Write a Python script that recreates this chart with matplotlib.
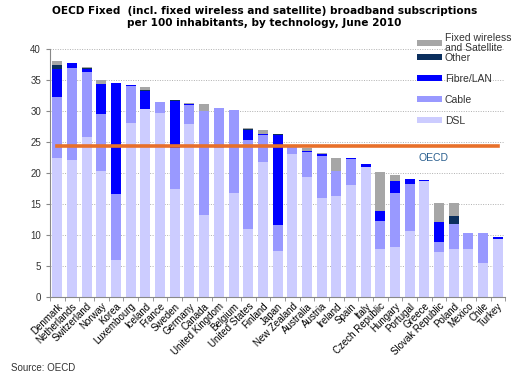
import matplotlib
matplotlib.use("Agg")
import matplotlib.pyplot as plt
import numpy as np
from matplotlib.patches import Patch

countries = ["Denmark", "Netherlands", "Switzerland", "Norway", "Korea", "Luxembourg",
             "Iceland", "France", "Sweden", "Germany", "Canada", "United Kingdom",
             "Belgium", "United States", "Finland", "Japan", "New Zealand", "Australia",
             "Austria", "Ireland", "Spain", "Italy", "Czech Republic", "Hungary",
             "Portugal", "Greece", "Slovak Republic", "Poland", "Mexico", "Chile", "Turkey"]

dsl = [22.4, 22.1, 25.8, 20.4, 6.0, 28.0, 30.4, 29.6, 17.5, 27.9, 13.2, 24.1,
       16.7, 11.0, 21.8, 7.5, 23.0, 19.4, 15.9, 16.3, 18.0, 20.9, 7.7, 8.1,
       10.6, 18.7, 7.2, 7.7, 7.8, 5.5, 9.3]
cable = [9.9, 14.8, 10.5, 9.1, 10.6, 6.0, 0.0, 1.8, 6.5, 3.1, 16.8, 6.4,
         13.4, 14.4, 4.3, 4.1, 1.2, 4.0, 6.9, 4.0, 4.2, 0.0, 4.6, 8.7,
         7.6, 0.0, 1.6, 4.1, 2.5, 4.9, 0.1]
fibre = [4.4, 0.9, 0.4, 4.8, 17.9, 0.2, 2.9, 0.0, 7.6, 0.2, 0.0, 0.0,
         0.0, 1.6, 0.2, 14.6, 0.0, 0.1, 0.3, 0.1, 0.2, 0.5, 1.5, 1.9,
         0.8, 0.2, 3.3, 0.0, 0.0, 0.0, 0.2]
other = [0.7, 0.0, 0.3, 0.1, 0.0, 0.0, 0.1, 0.0, 0.1, 0.0, 0.0, 0.0,
         0.0, 0.1, 0.0, 0.1, 0.0, 0.1, 0.0, 0.0, 0.0, 0.0, 0.0, 0.0,
         0.0, 0.0, 0.0, 1.3, 0.1, 0.0, 0.0]
wireless = [0.7, 0.0, 0.1, 0.6, 0.0, 0.0, 0.5, 0.0, 0.0, 0.1, 1.1, 0.0,
            0.0, 0.1, 0.6, 0.0, 0.0, 0.5, 0.2, 2.0, 0.0, 0.0, 6.4, 0.9,
            0.1, 0.0, 3.0, 2.0, 0.0, 0.0, 0.0]
oecd_avg = 24.4

series = [("DSL", dsl, "#CCCCFF"),
          ("Cable", cable, "#9999FF"),
          ("Fibre/LAN", fibre, "#0000FF"),
          ("Other", other, "#0B2F5E"),
          ("Fixed wireless\nand Satellite", wireless, "#A6A6A6")]

plt.rcParams['font.family'] = ['Liberation Sans', 'DejaVu Sans']

fig = plt.figure(figsize=(5.29, 3.89), dpi=100)
ax = fig.add_axes([0.0945, 0.2365, 0.8605, 0.6375])

x = np.arange(len(countries))
bottom = np.zeros(len(countries))
for name, vals, col in series:
    vals = np.array(vals)
    ax.bar(x, vals, width=0.68, bottom=bottom, color=col, linewidth=0, zorder=2)
    bottom += vals

# OECD average line
ax.plot([x[0], x[-1]], [oecd_avg, oecd_avg], color="#E8702A", lw=2.6, zorder=3)
ax.text(25.6, oecd_avg - 2.0, "OECD", color="#2A5F8F", fontsize=7.5,
        ha="center", va="center")

ax.set_xlim(-0.5, len(countries) - 0.5)
ax.set_ylim(0, 40)
ax.set_yticks(range(0, 41, 5))
ax.yaxis.grid(True, linestyle=(0, (1, 1.5)), color="#B0B0B0", lw=0.7, zorder=0)
ax.set_axisbelow(True)

ax.set_xticks(x)
ax.set_xticklabels(countries, rotation=45, ha="right", rotation_mode="anchor", fontsize=7)
ax.set_xticks(np.arange(-0.5, len(countries), 1), minor=True)
ax.tick_params(axis="x", which="major", length=0, pad=3)
ax.tick_params(axis="x", which="minor", length=3, color="#888888")
ax.tick_params(axis="y", length=3, color="#888888", labelsize=7, labelcolor="#333333")

for s in ["top", "right"]:
    ax.spines[s].set_visible(False)
for s in ["left", "bottom"]:
    ax.spines[s].set_color("#888888")
    ax.spines[s].set_linewidth(0.8)

handles = [Patch(facecolor=col, label=name) for name, vals, col in series][::-1]
leg_kw = dict(loc="upper left", frameon=False, fontsize=7.5, handlelength=2.4,
              handleheight=0.45, labelspacing=1.05, handletextpad=0.3, borderaxespad=0)
# wireless entry on its own so its two-line label hangs down like the original
leg1 = fig.legend(handles=handles[:1], bbox_to_anchor=(0.78, 0.927),
                  **dict(leg_kw, labelspacing=0.0))
leg2 = fig.legend(handles=handles[1:], bbox_to_anchor=(0.78, 0.875), **leg_kw)
for leg in (leg1, leg2):
    for t in leg.get_texts():
        t.set_color("#333333")
        t.set_linespacing(1.0)

fig.text(0.5, 0.985, "OECD Fixed  (incl. fixed wireless and satellite) broadband subscriptions\n"
         "per 100 inhabitants, by technology, June 2010",
         ha="center", va="top", fontsize=7.6, fontweight="bold", family="DejaVu Sans",
         linespacing=1.25)
fig.text(0.02, 0.045, "Source: OECD", fontsize=7, color="#333333")

fig.savefig("out.png", dpi=100)
